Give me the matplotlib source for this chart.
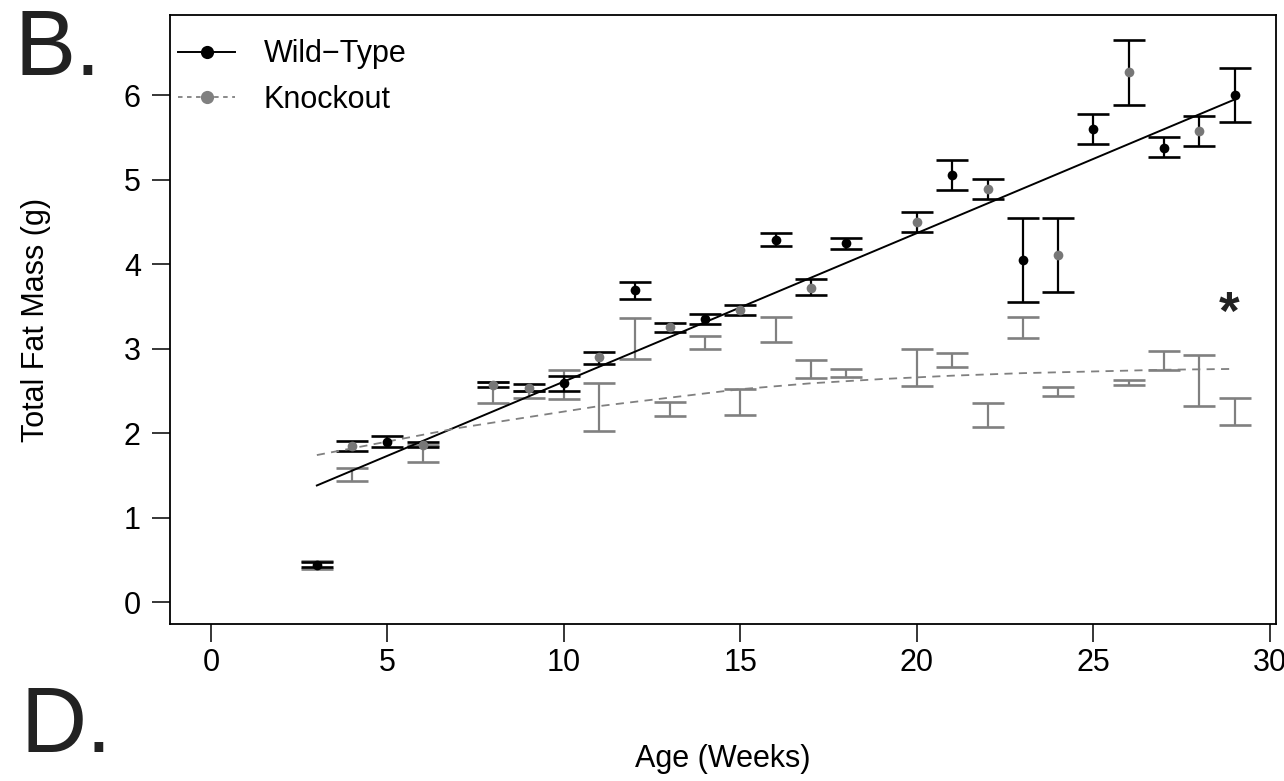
import matplotlib
matplotlib.use("Agg")
import matplotlib.pyplot as plt
from matplotlib.lines import Line2D

plt.rcParams['font.family'] = ['Liberation Sans', 'DejaVu Sans']

# Wild-type points (black) with black error bars
wt_weeks = [3, 5, 10, 12, 14, 16, 18, 21, 23, 25, 27, 29]
wt_mean = [0.44, 1.90, 2.59, 3.69, 3.35, 4.29, 4.25, 5.06, 4.05, 5.60, 5.38, 6.00]
wt_lo = [0.41, 1.84, 2.50, 3.59, 3.29, 4.22, 4.18, 4.88, 3.55, 5.42, 5.27, 5.68]
wt_hi = [0.47, 1.96, 2.68, 3.79, 3.41, 4.37, 4.31, 5.23, 4.55, 5.78, 5.50, 6.32]

# Knockout points (grey) drawn with black error bars
ko_pt_weeks = [4, 6, 8, 9, 11, 13, 15, 17, 20, 22, 24, 26, 28]
ko_pt_mean = [1.85, 1.86, 2.57, 2.53, 2.90, 3.26, 3.46, 3.72, 4.50, 4.89, 4.11, 6.27, 5.58]
ko_pt_lo = [1.79, 1.83, 2.54, 2.50, 2.82, 3.20, 3.40, 3.63, 4.38, 4.77, 3.67, 5.89, 5.40]
ko_pt_hi = [1.91, 1.89, 2.61, 2.58, 2.96, 3.30, 3.52, 3.82, 4.62, 5.01, 4.55, 6.65, 5.76]

# Grey error bars (no points)
ko_bar_weeks = [3, 4, 6, 8, 9, 10, 11, 12, 13, 14, 15, 16, 17, 18, 20, 21, 22, 23, 24, 26, 27, 28, 29]
ko_bar_lo = [0.39, 1.43, 1.66, 2.36, 2.41, 2.40, 2.03, 2.88, 2.20, 2.99, 2.22, 3.08, 2.65, 2.67,
             2.56, 2.78, 2.07, 3.13, 2.44, 2.57, 2.75, 2.32, 2.10]
ko_bar_hi = [0.48, 1.59, 1.86, 2.60, 2.50, 2.75, 2.59, 3.36, 2.37, 3.15, 2.52, 3.38, 2.87, 2.76,
             2.99, 2.95, 2.36, 3.38, 2.54, 2.63, 2.97, 2.92, 2.41]

# Fitted trends
wt_fit_x = [3, 29]
wt_fit_y = [1.38, 5.95]
ko_fit_x = [3, 5, 7, 9, 11, 13, 15, 17, 19, 21, 23, 25, 27, 29]
ko_fit_y = [1.74, 1.90, 2.06, 2.19, 2.32, 2.42, 2.52, 2.59, 2.64, 2.68, 2.71, 2.73, 2.75, 2.76]

x_ticks = [0, 5, 10, 15, 20, 25, 30]
y_ticks = [0, 1, 2, 3, 4, 5, 6]

GREY = '#808080'
GREY_PT = '#777777'
FS = 22

fig = plt.figure(figsize=(12.84, 7.81), dpi=100)
ax = fig.add_axes([170 / 1284, 1 - 624 / 781, (1276 - 170) / 1284, (624 - 15) / 781])

cap = 11.5

def bars(x, lo, hi, color, z):
    mid = [(a + b) / 2 for a, b in zip(lo, hi)]
    err = [[m - a for m, a in zip(mid, lo)], [b - m for m, b in zip(mid, hi)]]
    ax.errorbar(x, mid, yerr=err, fmt='none', ecolor=color, elinewidth=1.6,
                capsize=cap, capthick=1.9, zorder=z)

bars(ko_bar_weeks, ko_bar_lo, ko_bar_hi, GREY, 2)
bars(wt_weeks, wt_lo, wt_hi, 'black', 3)
bars(ko_pt_weeks, ko_pt_lo, ko_pt_hi, 'black', 3)

ax.plot(wt_weeks, wt_mean, 'o', color='black', ms=7, mec='none', zorder=5)
ax.plot(ko_pt_weeks, ko_pt_mean, 'o', color=GREY_PT, ms=7, mec='none', zorder=5)

ax.plot(wt_fit_x, wt_fit_y, '-', color='black', lw=1.4, zorder=4)
ax.plot(ko_fit_x, ko_fit_y, '--', color=GREY, lw=1.3, dashes=(4.5, 3.5), zorder=4)

ax.text(28.85, 3.40, '*', fontsize=38, fontweight='bold', ha='center', va='center', color='#222222')

ax.set_xlim(-1.16, 30.17)
ax.set_ylim(-0.26, 6.95)
ax.set_xticks(x_ticks)
ax.set_yticks(y_ticks)
ax.tick_params(axis='both', direction='out', length=13, width=1.1, labelsize=FS, color='black')
ax.tick_params(axis='x', pad=4)
ax.tick_params(axis='y', pad=8)
for s in ax.spines.values():
    s.set_linewidth(1.3)
    s.set_color('black')

ax.set_xlabel('Age (Weeks)', fontsize=FS, labelpad=48)
ax.set_ylabel('Total Fat Mass (g)', fontsize=FS, labelpad=52)

handles = [
    Line2D([], [], color='black', ls='-', lw=1.4, marker='o', ms=9.5, mec='none'),
    Line2D([], [], color=GREY, ls='--', lw=1.3, dashes=(2.5, 2.5), marker='o', ms=9.5, mec='none'),
]
ax.legend(handles, ['Wild\u2212Type', 'Knockout'], loc='upper left', frameon=False,
          fontsize=FS, handlelength=1.85, handletextpad=0.95, labelspacing=0.5,
          borderaxespad=0.2, borderpad=0.3,
          bbox_to_anchor=(-7 / 1106, 1 - 9 / 609))

fig.text(15 / 1284, 1 - 75 / 781, 'B.', fontsize=66, ha='left', va='baseline', color='#222222')
fig.text(20 / 1284, 1 - 752 / 781, 'D.', fontsize=66, ha='left', va='baseline', color='#222222')

fig.savefig('out.png', dpi=100)
